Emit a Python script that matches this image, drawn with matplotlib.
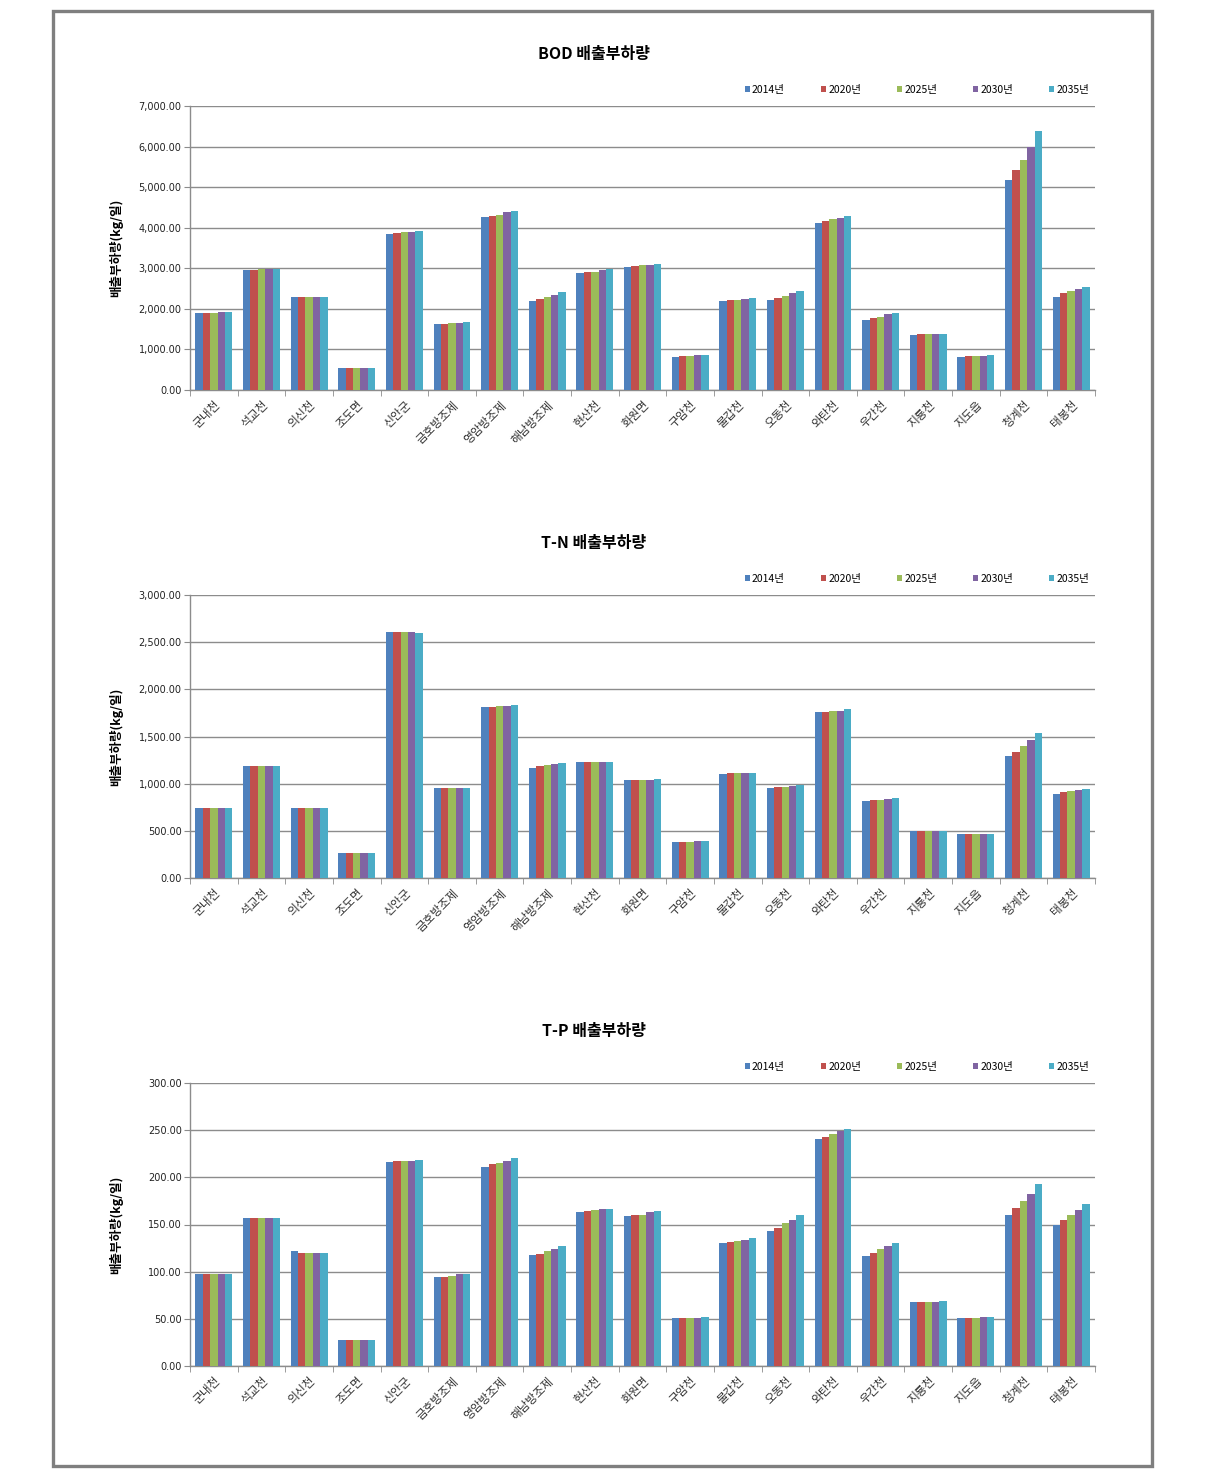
import matplotlib
matplotlib.use("Agg")
import matplotlib.pyplot as plt
import numpy as np
from matplotlib.patches import Rectangle

plt.rcParams['font.family'] = ['Noto Sans CJK KR', 'DejaVu Sans']

categories = ['군내천', '석교천', '의신천', '조도면', '신안군', '금호방조제', '영암방조제', '해남방조제',
              '현산천', '화원면', '구암천', '불갑천', '오동천', '와탄천', '우간천', '지룡천', '지도읍', '청계천', '태봉천']
years = ['2014년', '2020년', '2025년', '2030년', '2035년']
colors = ['#4F81BD', '#C0504D', '#9BBB59', '#8064A2', '#4BACC6']

bod_2014 = [1890, 2950, 2290, 545, 3840, 1620, 4270, 2190, 2890, 3020, 810, 2190, 2215, 4110, 1730, 1350, 810, 5165, 2300]
bod_2020 = [1890, 2950, 2290, 545, 3865, 1620, 4290, 2240, 2915, 3055, 840, 2215, 2275, 4160, 1785, 1385, 840, 5430, 2380]
bod_2025 = [1890, 2980, 2290, 545, 3890, 1645, 4325, 2290, 2915, 3080, 840, 2215, 2325, 4215, 1810, 1385, 840, 5675, 2430]
bod_2030 = [1920, 2980, 2290, 545, 3890, 1645, 4375, 2350, 2950, 3080, 865, 2240, 2380, 4250, 1870, 1385, 840, 5990, 2490]
bod_2035 = [1920, 2980, 2290, 545, 3920, 1680, 4405, 2420, 2975, 3105, 865, 2275, 2430, 4300, 1895, 1385, 865, 6375, 2540]

tn_2014 = [740, 1185, 740, 265, 2608, 952, 1808, 1171, 1228, 1044, 382, 1100, 952, 1762, 814, 495, 464, 1288, 895]
tn_2020 = [740, 1185, 740, 265, 2608, 952, 1808, 1182, 1228, 1044, 382, 1115, 962, 1762, 824, 495, 464, 1334, 909]
tn_2025 = [740, 1185, 740, 265, 2608, 952, 1819, 1196, 1228, 1044, 382, 1115, 962, 1773, 824, 495, 464, 1394, 920]
tn_2030 = [740, 1185, 740, 265, 2608, 952, 1819, 1207, 1228, 1044, 396, 1115, 973, 1773, 835, 495, 464, 1461, 931]
tn_2035 = [740, 1185, 740, 265, 2597, 952, 1833, 1217, 1228, 1054, 396, 1115, 987, 1787, 846, 495, 464, 1532, 941]

tp_2014 = [97.0, 157.1, 121.4, 27.6, 216.2, 94.8, 210.5, 117.8, 163.1, 158.5, 50.6, 130.6, 143.3, 240.6, 116.8, 67.9, 50.6, 159.6, 150.0]
tp_2020 = [97.0, 157.1, 120.3, 27.6, 217.6, 94.8, 214.1, 119.2, 164.2, 159.6, 50.6, 131.6, 146.8, 243.1, 120.3, 67.9, 50.6, 167.7, 155.0]
tp_2025 = [97.0, 157.1, 120.3, 27.6, 217.6, 95.9, 215.1, 121.4, 165.3, 160.6, 50.6, 132.7, 151.4, 246.3, 123.8, 67.9, 50.6, 174.4, 159.6]
tp_2030 = [97.0, 157.1, 120.3, 27.6, 217.6, 97.0, 217.6, 123.8, 166.7, 163.1, 50.6, 133.8, 155.0, 248.7, 127.4, 67.9, 51.7, 182.6, 165.3]
tp_2035 = [97.0, 157.1, 120.3, 27.6, 218.7, 97.0, 220.8, 127.4, 166.7, 164.2, 51.7, 136.2, 159.6, 250.9, 130.6, 69.4, 51.7, 193.2, 171.3]

titles = ['BOD 배출부하량', 'T-N 배출부하량', 'T-P 배출부하량']
ylabel = '배출부하량(kg/일)'
series_sets = [
    [bod_2014, bod_2020, bod_2025, bod_2030, bod_2035],
    [tn_2014, tn_2020, tn_2025, tn_2030, tn_2035],
    [tp_2014, tp_2020, tp_2025, tp_2030, tp_2035],
]
ylims = [(0, 7000, 1000), (0, 3000, 500), (0, 300, 50)]

W, H = 1222, 1474
fig = plt.figure(figsize=(W / 100, H / 100), dpi=100)
fig.patch.set_facecolor('white')

# outer frame
fig.patches.append(Rectangle((53 / W, 1 - 1466 / H), (1152 - 53) / W, (1466 - 11) / H,
                             transform=fig.transFigure, fill=False, edgecolor='#7f7f7f', linewidth=2.4))

ax_left, ax_right = 190, 1095
tops = [106, 595, 1083]
bottoms = [390, 878, 1366]

n = len(categories)
x = np.arange(n)
bw = 0.155
gridc = '#8c8c8c'

for k in range(3):
    ax = fig.add_axes([ax_left / W, 1 - bottoms[k] / H, (ax_right - ax_left) / W, (bottoms[k] - tops[k]) / H])
    for i, (vals, c, lab) in enumerate(zip(series_sets[k], colors, years)):
        ax.bar(x + (i - 2) * bw, vals, width=bw, color=c, label=lab, edgecolor='none', zorder=3)
    lo, hi, step = ylims[k]
    ax.set_ylim(lo, hi)
    ax.set_xlim(-0.5, n - 0.5)
    yt = np.arange(lo, hi + step / 2, step)
    ax.set_yticks(yt)
    ax.set_yticklabels([f'{v:,.2f}' for v in yt], fontsize=7, family=['DejaVu Sans'])
    ax.yaxis.grid(True, color=gridc, linewidth=1.0, zorder=0)
    ax.set_axisbelow(True)
    for s in ['top', 'right']:
        ax.spines[s].set_visible(False)
    ax.spines['left'].set_color(gridc)
    ax.spines['bottom'].set_color(gridc)
    ax.spines['left'].set_linewidth(1.0)
    ax.spines['bottom'].set_linewidth(1.0)
    ax.tick_params(axis='y', length=4, color=gridc, pad=2, labelcolor='#222222')
    ax.set_xticks(x)
    ax.set_xticklabels(categories, rotation=45, ha='right', rotation_mode='anchor', fontsize=8.5,
                       color='#333333')
    ax.tick_params(axis='x', length=0, pad=6)
    ax.set_xticks(np.arange(-0.5, n, 1.0), minor=True)
    ax.tick_params(axis='x', which='minor', length=4, color=gridc)
    ax.set_ylabel(ylabel, fontsize=9, fontweight='bold')
    ax.yaxis.set_label_coords((123 - ax_left) / (ax_right - ax_left), 0.5)
    fig.text((ax_left + ax_right) / 2 / W - 0.04, 1 - (tops[k] - 52) / H, titles[k],
             ha='center', va='center', fontsize=11.5, fontweight='bold')
    leg = ax.legend(loc='lower right', bbox_to_anchor=(0.998, 1.025), ncol=5, frameon=False,
                    fontsize=7.5, handlelength=0.5, handleheight=0.5, handletextpad=0.2,
                    columnspacing=3.45, borderaxespad=0)

fig.savefig('out.png', dpi=100, facecolor='white')
